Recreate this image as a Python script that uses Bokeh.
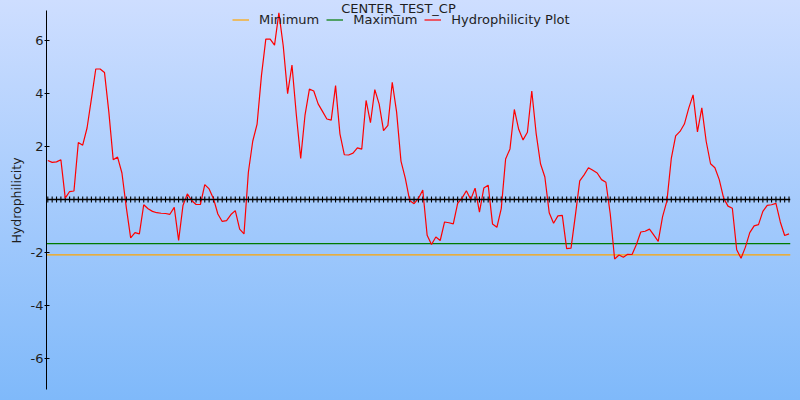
import numpy as np
from bokeh.plotting import figure
from bokeh.models import Range1d, FixedTicker, Span, Legend, LegendItem, Label
from bokeh.embed import file_html
from bokeh.resources import INLINE

# ---------------- data ----------------
chart_title = "CENTER_TEST_CP"
y_label = "Hydrophilicity"
series_names = ["Minimum", "Maximum", "Hydrophilicity Plot"]
y_ticks = [-6, -4, -2, 2, 4, 6]
y_axis_low, y_axis_high = -7.18, 7.14

residues = list(range(1, 172))
hydrophilicity = [
    1.47, 1.40, 1.42, 1.50, 0.05, 0.30, 0.32, 2.15, 2.05, 2.70,
    3.80, 4.93, 4.93, 4.80, 3.30, 1.50, 1.60, 1.00, -0.30, -1.45,
    -1.25, -1.30, -0.20, -0.35, -0.45, -0.50, -0.52, -0.53, -0.56, -0.30,
    -1.55, -0.23, 0.21, -0.04, -0.19, -0.19, 0.56, 0.40, 0.03, -0.55,
    -0.83, -0.80, -0.57, -0.42, -1.12, -1.30, 1.03, 2.20, 2.85, 4.68,
    6.06, 6.06, 5.83, 7.05, 5.80, 4.00, 5.08, 3.20, 1.55, 3.20,
    4.17, 4.10, 3.61, 3.33, 3.04, 3.00, 4.30, 2.48, 1.69, 1.68,
    1.75, 1.95, 1.90, 3.74, 2.90, 4.15, 3.60, 2.60, 2.80, 4.43,
    3.30, 1.45, 0.80, -0.04, -0.16, 0.04, 0.36, -1.35, -1.70, -1.42,
    -1.55, -0.85, -0.88, -0.92, -0.15, 0.05, 0.33, 0.00, 0.43, -0.48,
    0.43, 0.54, -0.93, -1.05, -0.35, 1.53, 1.91, 3.40, 2.65, 2.25,
    2.54, 4.10, 2.50, 1.35, 0.85, -0.50, -0.90, -0.62, -0.60, -1.86,
    -1.84, -0.60, 0.70, 0.93, 1.20, 1.10, 1.00, 0.75, 0.65, -0.55,
    -2.25, -2.10, -2.18, -2.07, -2.08, -1.70, -1.23, -1.20, -1.12, -1.35,
    -1.58, -0.65, -0.05, 1.55, 2.40, 2.57, 2.85, 3.45, 3.95, 2.55,
    3.46, 2.20, 1.35, 1.20, 0.75, 0.05, -0.25, -0.33, -1.90, -2.22,
    -1.80, -1.25, -1.00, -0.95, -0.45, -0.22, -0.20, -0.15, -0.85, -1.36,
    -1.30,
]
minimum_level = -2.09
maximum_level = -1.67
zero_level = 0.0

# ---------------- figure ----------------
FONT = "DejaVu Sans"
TXT = "#1e1e1e"
PX_PER_UNIT = 379 / (y_axis_high - y_axis_low)   # styling: vertical scale

x_range = Range1d(0.7, 171.34)
# frame fills the full height; the axis line is bounded to the reference span
y_range = Range1d(y_axis_low - 11 / PX_PER_UNIT, y_axis_high + 10 / PX_PER_UNIT)

p = figure(width=800, height=400, output_backend="svg", toolbar_location=None,
           title=None, x_range=x_range, y_range=y_range, x_axis_location=None,
           min_border_left=46, min_border_right=10, min_border_top=0,
           min_border_bottom=0)

# vertical gradient behind the whole (transparent) canvas
p.border_fill_alpha = 0
p.background_fill_alpha = 0
p.styles = {"background-image":
            "linear-gradient(to bottom, rgb(206,222,255), rgb(127,185,250))"}
p.outline_line_color = None
p.grid.grid_line_color = None

# lines
r_min = p.line([x_range.start, x_range.end], [minimum_level, minimum_level],
               line_color="#ffa500", line_width=1.2)
r_max = p.line([x_range.start, x_range.end], [maximum_level, maximum_level],
               line_color="#007a00", line_width=1.2)

# zero axis with tick marks
p.add_layout(Span(location=zero_level, dimension="width", line_color="black",
                  line_width=1.6, level="glyph"))
p.scatter(residues, [zero_level] * len(residues), marker="dash", angle=np.pi / 2,
          size=6, line_color="black", line_width=1.1)

r_h = p.line(residues, hydrophilicity, line_color="#ff0000", line_width=1.2)

# y axis
yax = p.yaxis[0]
yax.bounds = (y_axis_low, y_axis_high)
yax.ticker = FixedTicker(ticks=y_ticks)
yax.major_label_overrides = {t: str(t) for t in y_ticks}
yax.axis_label = y_label
yax.axis_label_text_font = FONT
yax.axis_label_text_font_size = "12.5px"
yax.axis_label_text_font_style = "normal"
yax.axis_label_text_color = TXT
yax.axis_label_standoff = 4
yax.major_label_text_font = FONT
yax.major_label_text_font_size = "13px"
yax.major_label_text_color = TXT
yax.major_label_standoff = 1
yax.major_tick_in = 3
yax.major_tick_out = 2
yax.minor_tick_line_color = None
yax.axis_line_color = "black"
yax.major_tick_line_color = "black"

# title (just above the axis top)
title_x = x_range.start + (x_range.end - x_range.start) * 352 / 744
p.add_layout(Label(x=title_x, y=y_axis_high, y_offset=2.5,
                   text=chart_title, text_align="center",
                   text_baseline="middle", text_font=FONT,
                   text_font_size="13px", text_color=TXT))

# legend
legend = Legend(items=[LegendItem(label=series_names[0], renderers=[r_min]),
                       LegendItem(label=series_names[1], renderers=[r_max]),
                       LegendItem(label=series_names[2], renderers=[r_h])],
                orientation="horizontal", location=(186, 373),
                padding=0, margin=0, spacing=7, glyph_width=17, glyph_height=13,
                label_standoff=10, label_text_font=FONT,
                label_text_font_size="13px", label_text_color=TXT,
                background_fill_alpha=0, border_line_alpha=0)
p.add_layout(legend)

open("out.html", "w").write(file_html(p, INLINE))
